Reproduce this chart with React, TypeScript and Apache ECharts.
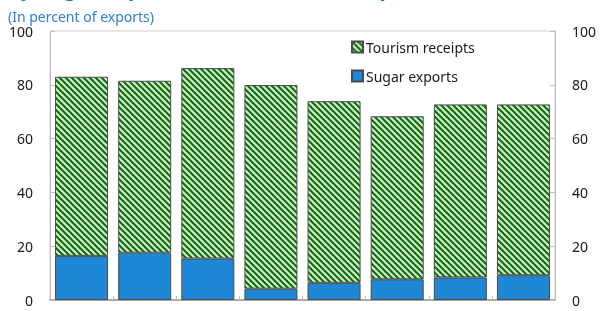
import React, { useEffect, useRef } from "react";
import * as echarts from "echarts";

const categories = ["1", "2", "3", "4", "5", "6", "7", "8"];
const sugarExports = [16.4, 17.6, 15.4, 4.2, 6.4, 7.7, 8.4, 9.2];
const tourismReceipts = [66.6, 63.9, 70.8, 75.7, 67.5, 60.6, 64.3, 63.5];
const yTicks = { min: 0, max: 100, interval: 20 };

const FONT = "Noto Sans";

function makeStripePattern(): HTMLCanvasElement {
  const size = 6;
  const c = document.createElement("canvas");
  c.width = size;
  c.height = size;
  const ctx = c.getContext("2d")!;
  ctx.fillStyle = "#d2eacb";
  ctx.fillRect(0, 0, size, size);
  ctx.strokeStyle = "#0a6e0a";
  ctx.lineWidth = 2.0;
  for (let k = -1; k <= 1; k++) {
    ctx.beginPath();
    ctx.moveTo(k * size - 1, -1);
    ctx.lineTo(k * size + size + 1, size + 1);
    ctx.stroke();
  }
  return c;
}

export default function App() {
  const ref = useRef<HTMLDivElement>(null);
  useEffect(() => {
    if (!ref.current) return;
    const chart = echarts.init(ref.current, undefined, { renderer: "svg" });
    const pattern = { image: makeStripePattern(), repeat: "repeat" } as any;
    const yAxisBase = {
      type: "value",
      min: yTicks.min,
      max: yTicks.max,
      interval: yTicks.interval,
      axisLine: { show: true, lineStyle: { color: "#c0c0c0", width: 1 } },
      axisTick: { show: true, inside: true, length: 5, lineStyle: { color: "#c0c0c0" } },
      splitLine: { show: false },
      axisLabel: { color: "#1a1a1a", fontSize: 14, fontFamily: FONT, margin: 17, lineHeight: 14 },
    };
    chart.setOption({
      animation: false,
      grid: {
        left: 50,
        right: 58,
        top: 31,
        bottom: 11,
        show: true,
        borderColor: "#cfcfcf",
        borderWidth: 1,
      },
      graphic: [
        {
          type: "text",
          left: 8,
          top: -23,
          style: {
            text: "by Sugar Exports and Tourism Receipts,",
            fontSize: 21,
            fontWeight: "bold",
            fontFamily: FONT,
            fill: "#1b73c8",
          },
        },
        {
          type: "text",
          left: 8,
          top: 9,
          style: {
            text: "(In percent of exports)",
            fontSize: 14,
            lineHeight: 15,
            fontFamily: FONT,
            fill: "#2a80d2",
          },
        },
      ],
      legend: {
        orient: "vertical",
        left: 346,
        top: 35,
        itemWidth: 11,
        itemHeight: 11,
        itemGap: 15,
        icon: "rect",
        data: ["Tourism receipts", "Sugar exports"],
        textStyle: { fontSize: 14, fontFamily: FONT, color: "#1a1a1a", padding: [0, 0, 0, -2] },
      },
      xAxis: {
        type: "category",
        data: categories,
        axisLine: { show: true, lineStyle: { color: "#a8a8a8", width: 2 } },
        axisTick: { show: true, inside: true, length: 4, interval: 0, lineStyle: { color: "#c0c0c0" } },
        axisLabel: { show: false },
      },
      yAxis: [
        { ...yAxisBase, position: "left" },
        { ...yAxisBase, position: "right" },
      ],
      series: [
        {
          name: "Sugar exports",
          type: "bar",
          stack: "total",
          barWidth: "84%",
          data: sugarExports,
          itemStyle: { color: "#1e88d6", borderColor: "#4a4a4a", borderWidth: 1 },
        },
        {
          name: "Tourism receipts",
          type: "bar",
          stack: "total",
          barWidth: "84%",
          data: tourismReceipts,
          itemStyle: { color: pattern, borderColor: "#4a4a4a", borderWidth: 1 },
        },
      ],
    });
    return () => chart.dispose();
  }, []);
  return (
    <div
      ref={ref}
      style={{ position: "fixed", left: 0, top: 0, width: 613, height: 311 }}
    />
  );
}
